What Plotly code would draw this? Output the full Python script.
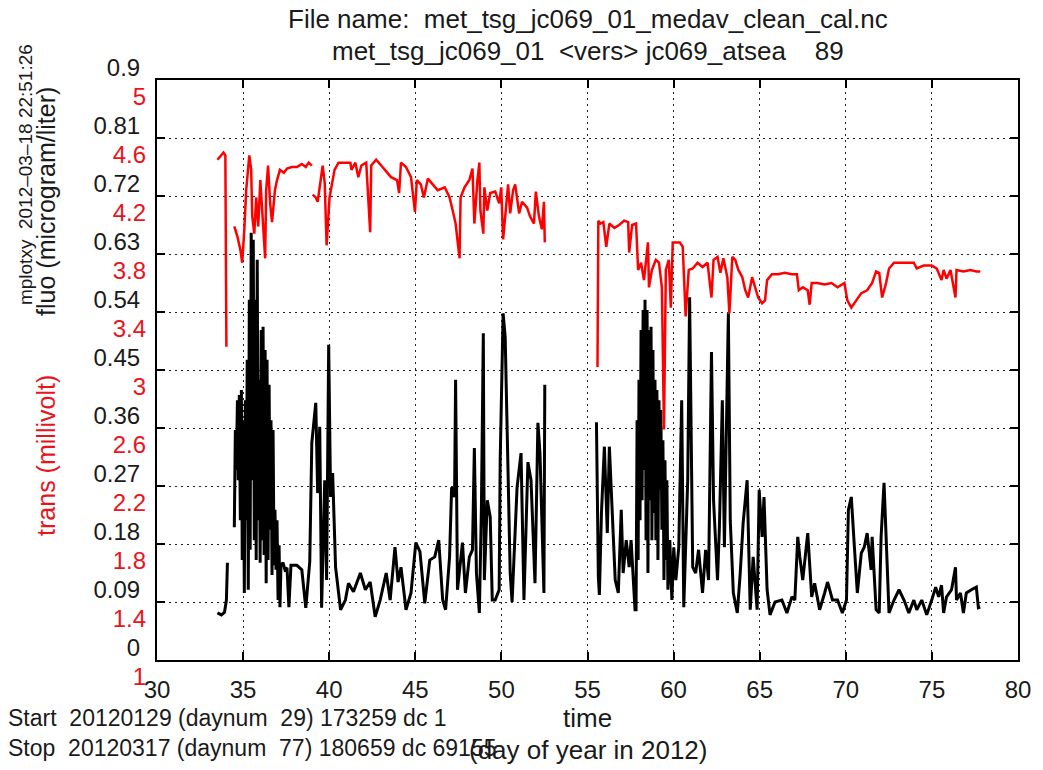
import plotly.graph_objects as go

# ---- fluorescence (black, left black scale) : day of year, microgram/liter ----
fluo_day = [
    33.51, 33.74, 33.92, 34.03, 34.09, None,
    34.49, 34.55, 34.61, 34.67, 34.72, 34.78, 34.84, 34.90, 34.95, 35.01, 35.07, 35.13,
    35.18, 35.24, 35.30, 35.36, 35.41, 35.47, 35.53, 35.59, 35.65, 35.70, 35.76, 35.82,
    35.88, 35.93, 35.99, 36.05, 36.11, 36.16, 36.22, 36.28, 36.34, 36.39, 36.45, 36.51,
    36.57, 36.62, 36.68, 36.74, 36.80, 36.85, 36.91, 36.97, 37.03, 37.09, 37.14, 37.20,
    37.32, 37.43, 37.55, 37.66, 37.78,
    38.12, 38.41, 38.64, 38.87, 38.99, 39.22, 39.33, 39.45, 39.56,
    39.74, 39.85, 39.97, 40.08, 40.20, 40.37, 40.66, 40.94, 41.12, 41.41, 41.81, 42.10,
    42.38, 42.67, 42.96, 43.31, 43.54, 43.82, 44.00, 44.17, 44.46, 44.75, 45.03, 45.27,
    45.55, 45.84, 46.13, 46.36, 46.59, 46.76, 46.99, 47.11, 47.28, 47.34, 47.45, 47.74,
    47.91, 48.14, 48.32, 48.43, 48.55, 48.72, 48.84, 48.95, 49.01, 49.18, 49.35, 49.47,
    49.64, 49.87, 49.93, 50.10, 50.22, 50.33, 50.51, 50.62, 50.91, 51.14, 51.31, 51.54,
    51.72, 51.95, 52.12, 52.24, 52.47, 52.52, None,
    55.52, 55.63, 55.69, 55.81, 55.98, 56.15, 56.27, 56.50, 56.61, 56.79, 56.96, 57.07,
    57.25, 57.42, 57.53, 57.76,
    57.82, 57.88, 57.94, 57.99, 58.05, 58.11, 58.17, 58.23, 58.28, 58.34, 58.40, 58.46,
    58.51, 58.57, 58.63, 58.69, 58.74, 58.80, 58.86, 58.92, 58.97, 59.03, 59.09, 59.15,
    59.21, 59.26, 59.32, 59.38, 59.44, 59.50, 59.55, 59.61, 59.67, 59.78, 59.90,
    60.01, 60.13, 60.30, 60.47,
    60.59, 60.82, 60.93, 61.11, 61.28, 61.45, 61.68, 61.86, 62.03, 62.20, 62.32, 62.55,
    62.66, 62.83, 62.95, 63.12, 63.18, 63.29, 63.47, 63.70, 63.87, 64.04, 64.27, 64.45,
    64.62, 64.85, 64.97, 65.14, 65.25, 65.43, 65.60, 65.89, 66.29, 66.58, 66.87, 67.04,
    67.21, 67.33, 67.50, 67.79, 68.02, 68.19, 68.48, 68.77, 68.94, 69.23, 69.52, 69.80,
    70.04, 70.15, 70.32, 70.50, 70.67, 70.90, 71.07, 71.24, 71.47, 71.53, 71.76, 71.94,
    72.05, 72.22, 72.40, 72.51, 72.80, 73.09, 73.38, 73.66, 73.95, 74.12, 74.41, 74.70,
    74.99, 75.22, 75.39, 75.56, 75.68, 75.85, 76.14, 76.37, 76.43, 76.66, 76.83, 77.00,
    77.29, 77.58, 77.70, 77.81,
]
fluo_val = [
    0.073, 0.070, 0.074, 0.093, 0.151, None,
    0.206, 0.357, 0.295, 0.403, 0.279, 0.411, 0.217, 0.419, 0.155, 0.372, 0.104, 0.403,
    0.217, 0.466, 0.109, 0.559, 0.171, 0.663, 0.279, 0.652, 0.186, 0.559, 0.155, 0.621,
    0.217, 0.435, 0.151, 0.512, 0.186, 0.517, 0.163, 0.481, 0.119, 0.466, 0.155, 0.427,
    0.202, 0.372, 0.132, 0.357, 0.147, 0.233, 0.140, 0.217, 0.093, 0.178, 0.082, 0.147,
    0.151, 0.140, 0.143, 0.082, 0.147,
    0.147, 0.140, 0.081, 0.152, 0.337, 0.399, 0.259, 0.362, 0.081,
    0.279, 0.124, 0.489, 0.253, 0.290, 0.144, 0.078, 0.093, 0.119, 0.106, 0.135, 0.109,
    0.121, 0.067, 0.093, 0.135, 0.093, 0.175, 0.121, 0.144, 0.078, 0.104, 0.182, 0.168,
    0.088, 0.155, 0.160, 0.186, 0.093, 0.078, 0.160, 0.268, 0.253, 0.435, 0.109, 0.182,
    0.104, 0.160, 0.171, 0.329, 0.135, 0.073, 0.237, 0.507, 0.124, 0.248, 0.222, 0.093,
    0.093, 0.109, 0.310, 0.538, 0.501, 0.357, 0.135, 0.090, 0.268, 0.321, 0.093, 0.307,
    0.279, 0.119, 0.368, 0.321, 0.104, 0.427, None,
    0.369, 0.129, 0.101, 0.228, 0.331, 0.197, 0.331, 0.186, 0.124, 0.104, 0.233, 0.135,
    0.186, 0.144, 0.186, 0.078,
    0.078, 0.372, 0.155, 0.435, 0.217, 0.512, 0.248, 0.543, 0.295, 0.559, 0.186, 0.543,
    0.135, 0.512, 0.248, 0.517, 0.186, 0.481, 0.228, 0.435, 0.186, 0.419, 0.155, 0.403,
    0.264, 0.388, 0.202, 0.341, 0.124, 0.310, 0.155, 0.279, 0.109, 0.186, 0.093,
    0.175, 0.124, 0.175, 0.403,
    0.082, 0.279, 0.563, 0.144, 0.135, 0.171, 0.104, 0.171, 0.124, 0.478, 0.248, 0.124,
    0.206, 0.403, 0.175, 0.445, 0.538, 0.217, 0.104, 0.073, 0.135, 0.213, 0.279, 0.078,
    0.160, 0.078, 0.264, 0.191, 0.253, 0.109, 0.070, 0.090, 0.093, 0.073, 0.098, 0.093,
    0.191, 0.160, 0.124, 0.197, 0.098, 0.119, 0.078, 0.104, 0.121, 0.093, 0.093, 0.073,
    0.093, 0.233, 0.253, 0.175, 0.104, 0.166, 0.175, 0.197, 0.140, 0.191, 0.078, 0.073,
    0.191, 0.275, 0.144, 0.073, 0.093, 0.109, 0.093, 0.073, 0.093, 0.078, 0.093, 0.070,
    0.093, 0.113, 0.098, 0.116, 0.073, 0.098, 0.109, 0.144, 0.093, 0.104, 0.073, 0.104,
    0.109, 0.113, 0.081, 0.082,
]

# ---- transmittance (red, left red scale) : day of year, millivolt ----
trans_day = [
    33.51, 33.69, 33.86, 33.97, 34.03, None,
    34.49, 34.67, 34.84, 34.95, 35.07, 35.18, 35.36, 35.47, 35.53, 35.65, 35.76, 35.88,
    36.00, 36.11, 36.28, 36.34, 36.45, 36.57, 36.68, 36.85, 36.97, 37.14, 37.37, 37.55,
    37.83, 38.12, 38.41, 38.64, 38.81, 38.99, None,
    39.04, 39.22, 39.33, 39.50, 39.62, 39.74, 39.85, 40.02, 40.14, 40.31, 40.54, 40.94,
    41.23, 41.29, 41.52, 41.69, 41.87, 42.15, 42.38, 42.44, 42.73, 43.02, 43.31, 43.59,
    43.94, 44.06, 44.17, 44.46, 44.75, 44.98, 45.09, 45.32, 45.50, 45.73, 46.01, 46.30,
    46.71, 46.99, 47.17, 47.34, 47.57, 47.63, 47.86, 48.14, 48.32, 48.43, 48.61, 48.72,
    48.78, 48.95, 49.01, 49.18, 49.35, 49.64, 49.87, 49.99, 50.10, 50.22, 50.39, 50.51,
    50.68, 50.80, 51.03, 51.20, 51.49, 51.66, 51.89, 52.00, 52.18, 52.35, 52.47, 52.52, None,
    55.58, 55.63, 55.75, 55.92, 56.09, 56.27, 56.56, 56.84, 57.13, 57.36, 57.42, 57.59,
    57.82, 57.94, 58.11, 58.28, 58.51, 58.57, 58.74, 58.97, 59.15, 59.32, 59.44, 59.55,
    59.72, 59.84, 59.95, 60.13, 60.36, 60.53, 60.70, 60.88, 61.11, 61.39, 61.68, 61.97,
    62.20, 62.32, 62.55, 62.72, 62.89, 63.12, 63.24, 63.41, 63.58, 63.76, 63.99, 64.16,
    64.33, 64.56, 64.73, 64.91, 65.14, 65.31, 65.43, 65.71, 66.06, 66.46, 66.87, 67.16,
    67.27, 67.50, 67.79, 67.90, 68.02, 68.36, 68.77, 69.17, 69.52, 69.92, 70.09, 70.32,
    70.61, 70.90, 71.24, 71.53, 71.76, 71.94, 72.11, 72.34, 72.51, 72.80, 73.20, 73.55,
    73.95, 74.12, 74.53, 74.99, 75.28, 75.56, 75.68, 75.85, 76.08, 76.37, 76.43, 76.83,
    77.24, 77.58, 77.81,
]
trans_val = [
    4.45, 4.48, 4.50, 4.48, 3.16, None,
    3.99, 3.92, 3.83, 3.74, 3.97, 4.24, 4.48, 4.38, 4.06, 3.94, 4.19, 3.99,
    4.31, 4.10, 3.77, 4.24, 4.41, 4.15, 4.02, 4.24, 4.31, 4.38, 4.36, 4.39,
    4.40, 4.40, 4.42, 4.40, 4.43, 4.41, None,
    4.21, 4.19, 4.16, 4.31, 4.41, 4.29, 3.86, 4.19, 4.26, 4.38, 4.43, 4.43,
    4.43, 4.38, 4.43, 4.33, 4.41, 4.43, 3.95, 4.41, 4.45, 4.41, 4.37, 4.33,
    4.31, 4.22, 4.43, 4.40, 4.33, 4.09, 4.31, 4.28, 4.19, 4.32, 4.28, 4.24,
    4.26, 4.19, 4.10, 4.01, 3.77, 4.19, 4.26, 4.31, 4.39, 4.01, 4.31, 4.43,
    4.10, 3.94, 4.26, 4.10, 4.22, 4.23, 4.15, 4.26, 3.90, 4.06, 4.28, 4.08,
    4.24, 4.28, 4.08, 4.16, 4.12, 4.06, 4.01, 4.23, 4.06, 3.97, 4.16, 3.88, None,
    3.02, 4.03, 4.01, 4.02, 3.85, 4.01, 3.98, 4.00, 4.03, 4.02, 3.81, 4.00,
    4.01, 3.69, 3.74, 3.62, 3.88, 3.57, 3.69, 3.76, 3.74, 3.57, 2.59, 3.69,
    3.76, 3.43, 3.88, 3.88, 3.88, 3.85, 3.37, 3.69, 3.70, 3.74, 3.71, 3.74,
    3.50, 3.76, 3.78, 3.67, 3.77, 3.64, 3.39, 3.78, 3.76, 3.69, 3.64, 3.55,
    3.50, 3.64, 3.57, 3.50, 3.46, 3.48, 3.62, 3.66, 3.66, 3.67, 3.66, 3.66,
    3.55, 3.57, 3.55, 3.45, 3.60, 3.60, 3.59, 3.60, 3.57, 3.60, 3.48, 3.43,
    3.48, 3.53, 3.55, 3.60, 3.68, 3.67, 3.50, 3.60, 3.70, 3.74, 3.74, 3.74,
    3.74, 3.70, 3.72, 3.72, 3.70, 3.62, 3.69, 3.63, 3.69, 3.50, 3.69, 3.68,
    3.69, 3.68, 3.68,
]

# ---- axes ----
x_ticks = [30, 35, 40, 45, 50, 55, 60, 65, 70, 75, 80]
fluo_ticks = [0, 0.09, 0.18, 0.27, 0.36, 0.45, 0.54, 0.63, 0.72, 0.81, 0.9]
fluo_tick_text = ["0", "0.09", "0.18", "0.27", "0.36", "0.45", "0.54", "0.63", "0.72", "0.81", "0.9"]
trans_ticks = [1, 1.4, 1.8, 2.2, 2.6, 3, 3.4, 3.8, 4.2, 4.6, 5]
trans_tick_text = ["1", "1.4", "1.8", "2.2", "2.6", "3", "3.4", "3.8", "4.2", "4.6", "5"]

NB = "\u00a0"
title_line1 = "File name:" + NB * 2 + "met_tsg_jc069_01_medav_clean_cal.nc"
title_line2 = "met_tsg_jc069_01" + NB * 2 + "&lt;vers&gt; jc069_atsea" + NB * 4 + "89"
stamp_text = "mplotxy" + NB * 2 + "2012\u201303\u201318 22:51:26"
fluo_label = "fluo (microgram/liter)"
trans_label = "trans (millivolt)"
x_label_1 = "time"
x_label_2 = "(day of year in 2012)"
start_text = "Start" + NB * 2 + "20120129 (daynum" + NB * 2 + "29) 173259 dc 1"
stop_text = "Stop" + NB * 2 + "20120317 (daynum" + NB * 2 + "77) 180659 dc 69155"

FONT = "Liberation Sans, Arial, Helvetica, sans-serif"
TXT = "#1a1a1a"
RED = "#ff0000"
RED_TXT = "#e8141c"

fig = go.Figure()
fig.add_trace(go.Scatter(x=fluo_day, y=fluo_val, mode="lines",
                         line=dict(color="black", width=3), yaxis="y",
                         showlegend=False, hoverinfo="skip"))
fig.add_trace(go.Scatter(x=trans_day, y=trans_val, mode="lines",
                         line=dict(color=RED, width=2.5), yaxis="y2",
                         showlegend=False, hoverinfo="skip"))

grid = dict(showgrid=True, gridcolor="#222222", gridwidth=1.2, griddash="2px,4px")

fig.update_layout(
    width=1043, height=770, autosize=False,
    margin=dict(l=157, r=18, t=80, b=110, pad=0),
    paper_bgcolor="white", plot_bgcolor="white",
    font=dict(family=FONT, size=24, color=TXT),
    xaxis=dict(range=[30, 80], tickvals=x_ticks, ticktext=[str(v) for v in x_ticks],
               ticks="inside", ticklen=8, tickwidth=2, tickcolor="black",
               showline=True, linecolor="black", linewidth=2, mirror="ticks",
               zeroline=False, ticklabelstandoff=7,
               tickfont=dict(size=24, color=TXT), **grid),
    yaxis=dict(range=[0, 0.9], tickvals=fluo_ticks, ticktext=fluo_tick_text,
               ticks="inside", ticklen=8, tickwidth=2, tickcolor="black",
               showline=True, linecolor="black", linewidth=2, mirror="ticks",
               zeroline=False, ticklabelshift=-12, ticklabelstandoff=10,
               tickfont=dict(size=24, color=TXT), **grid),
    yaxis2=dict(range=[1, 5], tickvals=trans_ticks, ticktext=trans_tick_text,
                overlaying="y", side="left", ticks="", showline=False,
                showgrid=False, zeroline=False, ticklabelshift=17,
                ticklabelstandoff=10, tickfont=dict(size=24, color=RED_TXT)),
)

def px_x(px):
    return (px - 157) / 868.0

def px_y(py):
    return (660 - py) / 580.0

annots = [
    dict(text=title_line1, x=0.5, y=px_y(19), xanchor="center", yanchor="middle",
         font=dict(size=26, color=TXT)),
    dict(text=title_line2, x=0.5, y=px_y(51), xanchor="center", yanchor="middle",
         font=dict(size=26, color=TXT)),
    dict(text=stamp_text, x=px_x(24), y=px_y(175), textangle=-90,
         xanchor="center", yanchor="middle", font=dict(size=19, color=TXT)),
    dict(text=fluo_label, x=px_x(45), y=px_y(201), textangle=-90,
         xanchor="center", yanchor="middle", font=dict(size=25, color=TXT)),
    dict(text=trans_label, x=px_x(45), y=px_y(455), textangle=-90,
         xanchor="center", yanchor="middle", font=dict(size=25, color=RED_TXT)),
    dict(text=x_label_1, x=0.5, y=px_y(718), xanchor="center", yanchor="middle",
         font=dict(size=26, color=TXT)),
    dict(text=x_label_2, x=0.5, y=px_y(750), xanchor="center", yanchor="middle",
         font=dict(size=26, color=TXT)),
    dict(text=start_text, x=px_x(5), y=px_y(718), xanchor="left", yanchor="middle",
         font=dict(size=23, color=TXT)),
    dict(text=stop_text, x=px_x(5), y=px_y(748), xanchor="left", yanchor="middle",
         font=dict(size=23, color=TXT)),
]
for a in annots:
    fig.add_annotation(xref="paper", yref="paper", showarrow=False, **a)

fig.write_html("out.html")
